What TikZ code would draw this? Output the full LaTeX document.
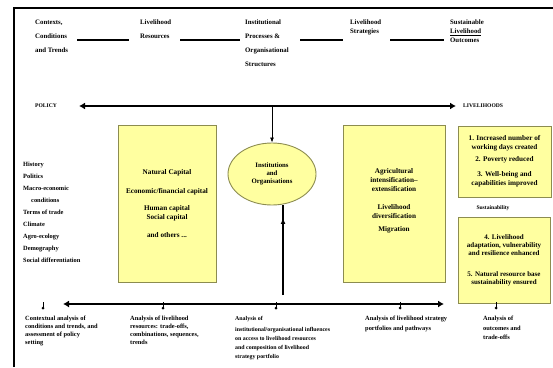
\documentclass[tikz,border=0pt]{standalone}
\usepackage{fontspec}
\setmainfont{Liberation Serif}
\usetikzlibrary{arrows.meta,shapes.geometric,decorations.markings}
\definecolor{boxfill}{RGB}{255,255,160}
\definecolor{boxline}{RGB}{140,140,80}
\tikzset{
  toptext/.style={anchor=north west,inner sep=0pt,align=left,font=\fontsize{6.8}{14}\selectfont\bfseries},
  ybox/.style={draw=boxline,line width=0.9pt,fill=boxfill,rectangle,inner sep=1pt,align=center,font=\fontsize{7.2}{9}\selectfont\bfseries},
  yell/.style={draw=boxline,line width=0.9pt,fill=boxfill,ellipse,inner sep=0pt,align=center,minimum width=88pt,minimum height=62pt,font=\fontsize{6.8}{8}\selectfont\bfseries},
  bottext/.style={anchor=north west,inner sep=0pt,align=left,font=\fontsize{6.4}{8}\selectfont\bfseries},
  lbl/.style={inner sep=0pt,font=\fontsize{5.6}{7}\selectfont\bfseries},
  joinline/.style={line width=2.2pt},
  bigarrow/.style={line width=2.6pt,{Latex[length=6pt,width=7pt]}-{Latex[length=6pt,width=7pt]}},
  marker/.style={line width=0.8pt}
}
\begin{document}
\begin{tikzpicture}[x=1pt,y=-1pt]
\fill[white] (0,0) rectangle (553,367);
\useasboundingbox (0,0) rectangle (553,367);
% frame
\draw[line width=1.8pt] (14,367) -- (14,8) -- (553,8);
% top row
\node[toptext] (ctx) at (35,20) {Contexts,\\Conditions\\and Trends};
\node[toptext] (res) at (140,20) {Livelihood\\Resources};
\node[toptext] (inst) at (245,20) {Institutional\\Processes \&\\Organisational\\Structures};
\node[toptext,font=\fontsize{6.8}{9}\selectfont\bfseries] (strat) at (350,20) {Livelihood\\Strategies};
\node[toptext,font=\fontsize{6.8}{9}\selectfont\bfseries] (outc) at (450,20) {Sustainable\\\underline{Livelihood}\\Outcomes};
\coordinate (j1a) at (77,40); \coordinate (j1b) at (129,40);
\coordinate (j2a) at (180,40); \coordinate (j2b) at (240,40);
\coordinate (j3a) at (300,40); \coordinate (j3b) at (343,40);
\coordinate (j4a) at (390,40); \coordinate (j4b) at (444,40);
\draw[joinline] (j1a) -- (j1b);
\draw[joinline] (j2a) -- (j2b);
\draw[joinline] (j3a) -- (j3b);
\draw[joinline] (j4a) -- (j4b);
% policy line
\node[lbl,anchor=west] (pol) at (35,106) {POLICY};
\node[lbl,anchor=west] (liv) at (463,106) {LIVELIHOODS};
\coordinate (pl) at (79,106);
\coordinate (pr) at (456,106);
\draw[bigarrow] (pl) -- (pr);
% left list
\node[anchor=north west,inner sep=0pt,align=left,font=\fontsize{6.4}{12}\selectfont\bfseries] (ctxlist) at (23,162)
 {History\\Politics\\Macro-economic\\\hspace{8pt}conditions\\Terms of trade\\Climate\\Agro-ecology\\Demography\\Social differentiation};
% boxes
\node[ybox,minimum width=98pt,minimum height=157pt] (nat) at (167,203.5)
 {Natural Capital\\[10pt]Economic/financial capital\\[8pt]Human capital\\Social capital\\[9pt]and others ...};
\node[yell] (ell) at (272,174) {Institutions\\and\\Organisations};
\node[ybox,minimum width=102pt,minimum height=157pt] (agr) at (394,203.5)
 {\begin{tabular}{@{}c@{}}Agricultural\\intensification--\\extensification\\[9pt]Livelihood\\diversification\\[4pt]Migration\\[6pt]\end{tabular}};
\node[ybox,minimum width=93pt,minimum height=71pt] (o1) at (504.5,161.5)
 {1. Increased number of\\working days created\\[3pt]2. Poverty reduced\\[6pt]3. Well-being and\\capabilities improved};
\node[lbl] (sus) at (493,208) {Sustainability};
\node[ybox,minimum width=92pt,minimum height=86pt,font=\fontsize{7}{8}\selectfont\bfseries] (o2) at (504,260)
 {4. Livelihood\\adaptation, vulnerability\\and resilience enhanced\\[13pt]5. Natural resource base\\sustainability ensured};
% vertical arrows
\coordinate (pv) at (272,106);
\draw[line width=0.8pt,-{Latex[length=5pt,width=4pt]}] (pv) -- (ell.north);
\coordinate (vb) at (283,295);
\draw[line width=2pt,postaction={decorate},decoration={markings,mark=at position 0.86 with {\arrow{Latex[length=6pt,width=5pt]}}}] (vb) -- (vb |- ell.south);
% bottom line
\coordinate (bl) at (63,304);
\coordinate (br) at (444,304);
\draw[bigarrow,line width=2.2pt] (bl) -- (br);
\foreach \mx/\nm in {43/m1,163/m2,276/m3,400/m4,496/m5}{
  \coordinate (\nm) at (\mx,308);
  \draw[marker] (\mx,302) -- (\nm);
  \fill (\nm) circle (1.5pt);
}
% bottom texts
\node[bottext] (b1) at (25,316) {Contextual analysis of\\conditions and trends, and\\assessment of policy\\setting};
\node[bottext] (b2) at (130,316) {Analysis of livelihood\\resources: trade-offs,\\combinations, sequences,\\trends};
\node[bottext,font=\fontsize{5.9}{9}\selectfont\bfseries] (b3) at (235,316) {Analysis of\\[2pt]institutional/organisational influences\\on access to livelihood resources\\and composition of livelihood\\strategy portfolio};
\node[bottext,font=\fontsize{6.4}{10}\selectfont\bfseries] (b4) at (365,316) {Analysis of livelihood strategy\\portfolios and pathways};
\node[bottext,font=\fontsize{6.4}{9.5}\selectfont\bfseries] (b5) at (483,316) {Analysis of\\outcomes and\\trade-offs};
\end{tikzpicture}
\end{document}
